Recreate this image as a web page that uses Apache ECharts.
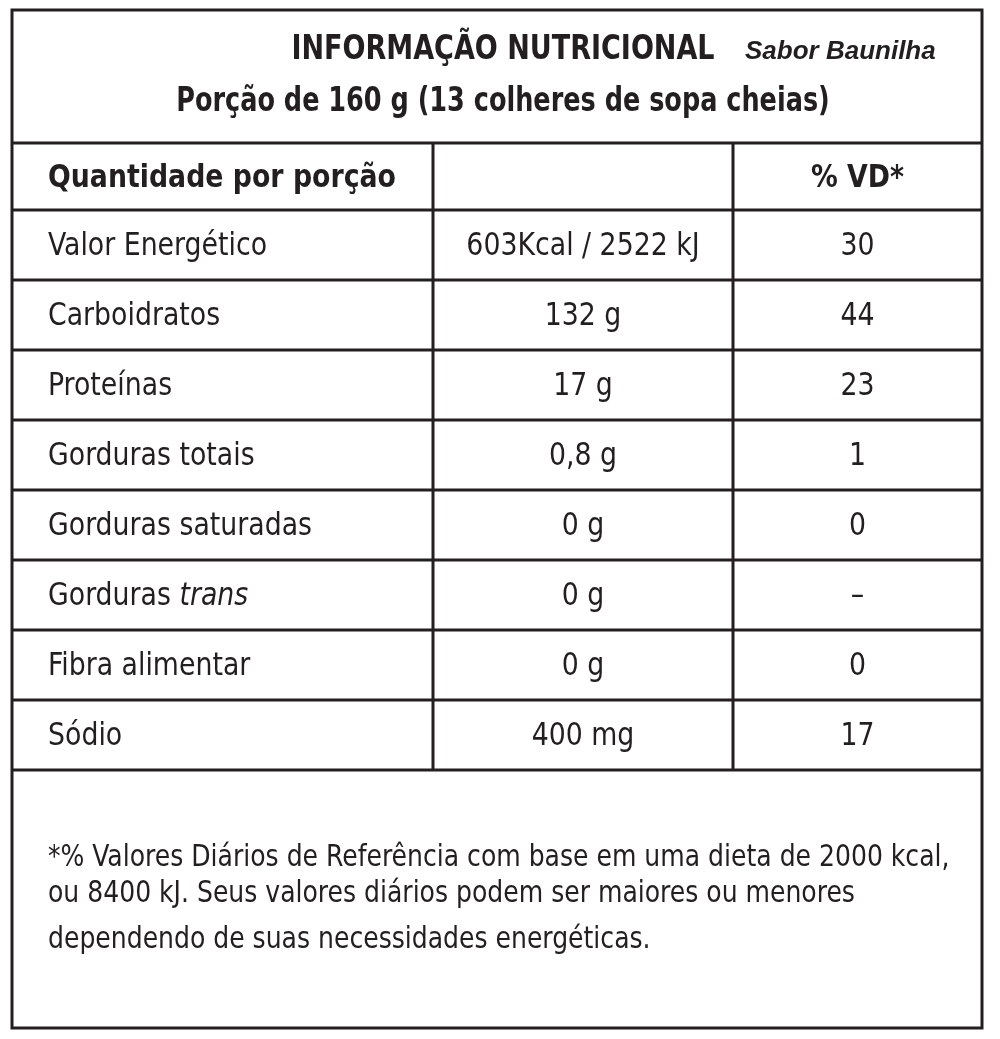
<!DOCTYPE html>
<html><head><meta charset="utf-8">
<script src="https://cdn.jsdelivr.net/npm/echarts@6/dist/echarts.min.js"></script>
<style>html,body{margin:0;padding:0;background:#fff}#c{width:1000px;height:1039px}</style>
</head><body><div id="c"></div>
<script>
const title = "INFORMAÇÃO NUTRICIONAL";
const subtitle = "Sabor Baunilha";
const portion = "Porção de 160 g (13 colheres de sopa cheias)";
const headers = ["Quantidade por porção", "", "% VD*"];
const nutrients = ["Valor Energético","Carboidratos","Proteínas","Gorduras totais","Gorduras saturadas","Gorduras trans","Fibra alimentar","Sódio"];
const amounts = ["603Kcal / 2522 kJ","132 g","17 g","0,8 g","0 g","0 g","0 g","400 mg"];
const vd = ["30","44","23","1","0","–","0","17"];
const footnote = ["*% Valores Diários de Referência com base em uma dieta de 2000 kcal,","ou 8400 kJ. Seus valores diários podem ser maiores ou menores","dependendo de suas necessidades energéticas."];

const F = '"Liberation Sans Narrow","DejaVu Sans Condensed",sans-serif';
const L = 12, R = 982, T = 10, B = 1028;
const rowTop = 143, headH = 67, rowH = 70;
const col1 = 433, col2 = 733;
const els = [];
const line = (x1,y1,x2,y2,w)=>els.push({type:'line',shape:{x1,y1,x2,y2},style:{stroke:'#231f20',lineWidth:w}});
els.push({type:'rect',shape:{x:L,y:T,width:R-L,height:B-T},style:{fill:'none',stroke:'#231f20',lineWidth:3}});
const txt=(x,y,t,o,sx)=>els.push({type:'text',x,y,scaleX:sx||0.93,style:Object.assign({text:t,fill:'#231f20',font:'32px '+F,textVerticalAlign:'middle'},o)});
txt(503,50,title,{font:'bold 33px '+F,textAlign:'center'},0.91);
txt(745,52,subtitle,{font:'italic bold 26px Arial, "Liberation Sans", sans-serif'},1);
txt(503,102,portion,{font:'bold 33px '+F,textAlign:'center'},0.86);
line(L,rowTop,R,rowTop,3);
const endY = rowTop+headH+rowH*nutrients.length;
line(col1,rowTop,col1,endY,3); line(col2,rowTop,col2,endY,3);
txt(48,rowTop+headH/2+2,headers[0],{font:'bold 32px '+F});
txt((col2+R)/2,rowTop+headH/2+2,headers[2],{font:'bold 32px '+F,textAlign:'center'});
line(L,rowTop+headH,R,rowTop+headH,3);
nutrients.forEach((n,i)=>{
  const y0=rowTop+headH+rowH*i, yc=y0+rowH/2+2;
  if(n==="Gorduras trans"){
    els.push({type:'text',x:48,y:yc,scaleX:0.93,style:{text:'{a|Gorduras }{b|trans}',font:'32px '+F,textVerticalAlign:'middle',fill:'#231f20',rich:{a:{font:'32px '+F,fill:'#231f20'},b:{font:'italic 32px '+F,fill:'#231f20'}}}});
  } else txt(48,yc,n);
  txt((col1+col2)/2,yc,amounts[i],{textAlign:'center'});
  txt((col2+R)/2,yc,vd[i],{textAlign:'center'});
  line(L,y0+rowH,R,y0+rowH,3);
});
footnote.forEach((f,i)=>txt(48,[858,894,940][i],f,{font:'31px '+F},0.9));
const ch = echarts.init(document.getElementById('c'));
ch.setOption({animation:false,graphic:{elements:els}});
</script></body></html>
